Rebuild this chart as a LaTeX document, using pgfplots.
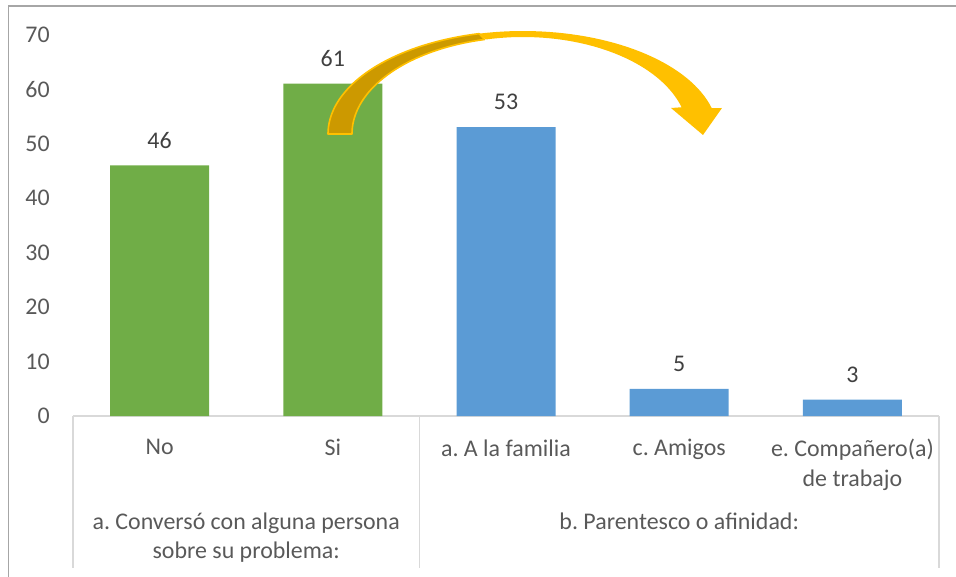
\documentclass[border=0pt]{standalone}
\usepackage{fontspec}
\setmainfont{Carlito}
\usepackage{pgfplots}
\pgfplotsset{compat=1.18}
\definecolor{cgreen}{HTML}{70AD47}
\definecolor{cblue}{HTML}{5B9BD5}
\definecolor{tickgray}{HTML}{595959}
\definecolor{dgray}{HTML}{404040}
\definecolor{lgray}{HTML}{D9D9D9}
\definecolor{framegray}{HTML}{A6A6A6}
\definecolor{gold}{HTML}{FFC000}
\definecolor{golddark}{HTML}{CC9900}
\begin{document}
\frenchspacing
\fontsize{12}{15}\selectfont
\begin{tikzpicture}
\useasboundingbox (0,0) rectangle (478bp,-288.5bp);
\begin{scope}[x=0.5bp,y=-0.5bp]
\draw[color=framegray, line width=0.75bp] (8.5,577) -- (8.5,6) -- (956,6);
\end{scope}
\begin{axis}[
  at={(36.5bp,-208bp)}, anchor=south west,
  scale only axis, width=433bp, height=190.75bp,
  xmin=-0.5, xmax=4.5, ymin=0, ymax=70,
  clip=false,
  axis x line*=bottom, axis y line*=left,
  x axis line style={draw=lgray, line width=0.6bp, -},
  y axis line style={draw=none},
  major tick length=0pt,
  ytick={0,10,...,70},
  /pgf/number format/assume math mode=true,
  yticklabel style={text=tickgray, font=\fontsize{12}{15}\selectfont, xshift=-7.5bp},
  xtick={0,1,2,3,4},
  xticklabels={No, Si, a. A la familia, c. Amigos, {e. Compañero(a)\\de trabajo}},
  xticklabel style={text=tickgray, font=\fontsize{12}{15}\selectfont, align=center, anchor=north, inner sep=0pt, yshift=-11.5bp},
  nodes near coords,
  every node near coord/.append style={text=dgray, font=\fontsize{12}{15}\selectfont, anchor=center, yshift=12.5bp},
]
\addplot[ybar, fill=cgreen, draw=none, bar width=49.5bp, bar shift=0pt] coordinates {(0,46) (1,61)};
\addplot[ybar, fill=cblue, draw=none, bar width=49.5bp, bar shift=0pt] coordinates {(2,53) (3,5) (4,3)};
\draw[lgray, line width=0.6bp] (axis cs:-0.5,0) -- ([yshift=-76bp]axis cs:-0.5,0);
\draw[lgray, line width=0.6bp] (axis cs:1.5,0) -- ([yshift=-76bp]axis cs:1.5,0);
\draw[lgray, line width=0.6bp] (axis cs:4.5,0) -- ([yshift=-76bp]axis cs:4.5,0);
\node[text=tickgray, align=center, anchor=north, inner sep=0pt] at ([yshift=-48bp]axis cs:0.5,0) {a. Conversó con alguna persona\\sobre su problema:};
\node[text=tickgray, align=center, anchor=north, inner sep=0pt] at ([yshift=-48bp]axis cs:3,0) {b. Parentesco o afinidad:};
\end{axis}
\begin{scope}[x=0.5bp,y=-0.5bp]
\fill[gold] plot[variable=\t, domain=257:345.4, samples=40] ({523+195*cos(\t)},{134+103*sin(\t)})
  -- (722,108) -- (703,135) -- (671,108)
  -- plot[variable=\t, domain=344:257, samples=40] ({523+165*cos(\t)},{134+97*sin(\t)}) -- cycle;
\draw[fill=golddark, draw=gold, line width=0.8bp, line join=round] plot[variable=\t, domain=180:257, samples=40] ({523+195*cos(\t)},{134+103*sin(\t)})
  -- plot[variable=\t, domain=257:180, samples=40] ({523+171*cos(\t)},{134+97*sin(\t)}) -- cycle;
\end{scope}
\end{tikzpicture}
\end{document}
